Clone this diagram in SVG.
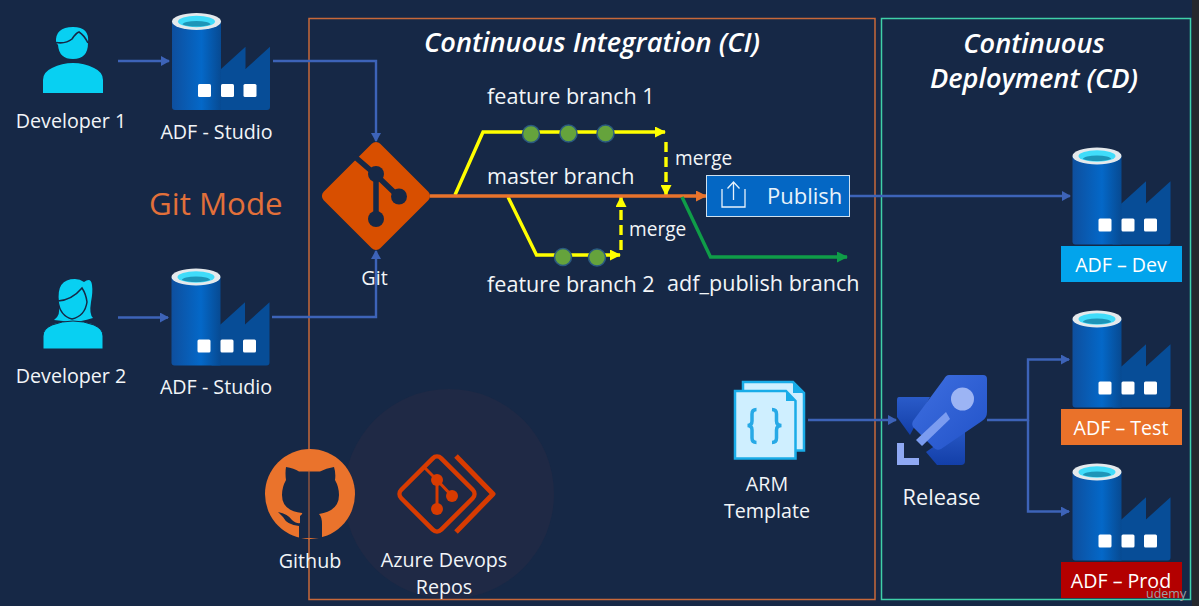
<svg xmlns="http://www.w3.org/2000/svg" width="1199" height="606" viewBox="0 0 1199 606">
<style>
text{font-family:"Open Sans","Noto Sans","Liberation Sans",sans-serif;fill:#f2f5f8;font-size:19.700px}
.m{text-anchor:middle}
.h{font-weight:600;font-style:italic;font-size:27.200px;fill:#fff}
.c{fill:none;stroke:#3d63b8;stroke-width:2.400}
.y{fill:none;stroke:#ffff00;stroke-width:3.400}
.yd{fill:none;stroke:#ffff00;stroke-width:3.400;stroke-dasharray:10 5}
.dot{fill:#65a33c;stroke:#2a5a80;stroke-width:1.500}
.p{fill:#08d0f2}
.lb{font-size:19.600px;fill:#fff}
.br{font-size:21.600px}
.mg{font-size:19.100px}
</style>
<defs>
<linearGradient id="cy" x1="0" x2="1" y1="0" y2="0"><stop offset="0" stop-color="#0e4f9e"/><stop offset=".6" stop-color="#0468c8"/><stop offset="1" stop-color="#074a92"/></linearGradient>
<linearGradient id="rk" x1="0" x2="1" y1="0" y2="1"><stop offset="0" stop-color="#3f6fe0"/><stop offset="1" stop-color="#2152c8"/></linearGradient>
<linearGradient id="rk2" x1="0" x2="0" y1="0" y2="1"><stop offset="0" stop-color="#2a5bc9"/><stop offset="1" stop-color="#133fa8"/></linearGradient>
<marker id="ab" markerUnits="userSpaceOnUse" markerWidth="9" markerHeight="10" refX="8" refY="5" orient="auto"><path d="M0 0L9 5L0 10z" fill="#3d63b8"/></marker>
<marker id="ay" markerUnits="userSpaceOnUse" markerWidth="11" markerHeight="11" refX="10" refY="5.500" orient="auto"><path d="M0 0L11 5.500L0 11z" fill="#ffff00"/></marker>
<marker id="ao" markerUnits="userSpaceOnUse" markerWidth="11" markerHeight="11" refX="10" refY="5.500" orient="auto"><path d="M0 0L11 5.500L0 11z" fill="#e8732c"/></marker>
<marker id="ag" markerUnits="userSpaceOnUse" markerWidth="11" markerHeight="11" refX="10" refY="5.500" orient="auto"><path d="M0 0L11 5.500L0 11z" fill="#0f9d48"/></marker>
<g id="adf">
<path d="M49 56L73.500 33.700V56L98 33.700V94a3 3 0 0 1-3 3H40V56z" fill="#074d97"/>
<path d="M0 8.500V94a3 3 0 0 0 3 3H49V8.500z" fill="url(#cy)"/>
<ellipse cx="24.500" cy="8.500" rx="24.500" ry="8.500" fill="#e4e9ec"/>
<ellipse cx="24.500" cy="8.500" rx="18.500" ry="5.800" fill="#40dcfa"/>
<path d="M10.500 11.500a14 3.500 0 0 1 28 0a18.500 5.800 0 0 1-28 0z" fill="#1d95b8"/>
<rect x="26" y="71" width="13" height="13" rx="1.500" fill="#fff"/>
<rect x="49" y="71" width="13" height="13" rx="1.500" fill="#fff"/>
<rect x="71.500" y="71" width="13" height="13" rx="1.500" fill="#fff"/>
</g>
</defs>
<rect width="1199" height="606" fill="#162846"/>
<rect x="1192" width="7" height="606" fill="#25282d"/>
<circle cx="449" cy="494" r="105" fill="#1f2945"/>
<rect id="ci-box" x="309" y="18.500" width="566" height="581" fill="none" stroke="#c8683a" stroke-width="1.500"/>
<rect id="cd-box" x="881.500" y="18.500" width="309" height="581" fill="none" stroke="#3fd0a8" stroke-width="1.500"/>
<text class="h m" x="592" y="52">Continuous Integration (CI)</text>
<text class="h m" x="1034" y="52.500">Continuous</text>
<text class="h m" x="1034" y="87.500">Deployment (CD)</text>
<text id="git-mode" x="149" y="215" style="font-size:31.300px;fill:#e2703a">Git Mode</text>

<g id="connectors">
<path class="c" d="M118 61H169" marker-end="url(#ab)"/>
<path class="c" d="M273 61H376V141" marker-end="url(#ab)"/>
<path class="c" d="M118 317.500H168" marker-end="url(#ab)"/>
<path class="c" d="M272 317H376V251" marker-end="url(#ab)"/>
<path class="y" d="M455 195L483 132H665" marker-end="url(#ay)"/>
<path class="y" d="M508 197L536.500 255H620" marker-end="url(#ay)"/>
<path class="yd" d="M666 142V195" marker-end="url(#ay)"/>
<path class="yd" d="M621 250V197" marker-end="url(#ay)"/>
<path d="M430 196H706" fill="none" stroke="#e8732c" stroke-width="3.400" marker-end="url(#ao)"/>
<path d="M682 197L710.500 257H847" fill="none" stroke="#0f9d48" stroke-width="3.400" marker-end="url(#ag)"/>
<path class="c" d="M849 196H1070" marker-end="url(#ab)"/>
<path class="c" d="M808 420H896" marker-end="url(#ab)"/>
<path class="c" d="M987 420H1028V359.500H1069" marker-end="url(#ab)"/>
<path class="c" d="M1028 420V511.500H1069" marker-end="url(#ab)"/>
</g>

<g id="developer-1">
<path class="p" d="M43 93V80q0-8 9-12q10-5 21-5t21 5q9 4 9 12v13z"/>
<path class="p" d="M56 42.500Q55 27 73 27Q90 27 88 43Q88 59 73 59Q59 59 58 45z"/>
<path d="M56 42.500Q66 44 72 39Q76 33 79 32Q84 35 88 43" fill="none" stroke="#162846" stroke-width="1.600"/>
<text class="m" x="71" y="128">Developer 1</text>
</g>
<g id="adf-studio-1"><use href="#adf" x="172" y="13"/><text class="m" x="216.500" y="139">ADF - Studio</text></g>

<g id="developer-2">
<path class="p" d="M54 320Q61 316 59 302Q56 279 75 279Q80 279 84 282Q91 277 92 285Q93 292 91 302Q89 314 93 318Q80 322 72 322z"/>
<path d="M58 301Q72 300 82 288Q86 294 87 302Q85 316 72 319Q60 316 58 301z" fill="#08d0f2" stroke="#162846" stroke-width="1.500"/>
<path class="p" d="M43 349V336Q43 329 52 325Q62 321 73 321Q84 321 94 325Q103 329 103 336V349z" stroke="#162846" stroke-width="1"/>
<text class="m" x="71" y="383">Developer 2</text>
</g>
<g id="adf-studio-2"><use href="#adf" x="171.500" y="268.500"/><text class="m" x="216" y="394">ADF - Studio</text></g>

<g id="git">
<rect x="336" y="156" width="80" height="80" rx="6" transform="rotate(45 376 196)" fill="#d84f00"/>
<path d="M354 156L376 175M376 175V219M376 175L399 197" fill="none" stroke="#162846" stroke-width="5.500"/>
<circle cx="376" cy="174" r="8" fill="#162846"/><circle cx="399" cy="196.500" r="8" fill="#162846"/><circle cx="376" cy="219" r="8" fill="#162846"/>
<text class="m" x="374.500" y="285">Git</text>
</g>

<g id="branch-labels">
<text class="br" x="487" y="104">feature branch 1</text>
<text class="br" x="487" y="184">master branch</text>
<text class="br" x="487" y="292">feature branch 2</text>
<text class="br" x="667" y="291">adf_publish branch</text>
<text class="mg" x="675" y="165">merge</text>
<text class="mg" x="629" y="236">merge</text>
</g>
<g id="commits">
<circle class="dot" cx="531" cy="134" r="8.500"/><circle class="dot" cx="568.500" cy="133.500" r="8.500"/><circle class="dot" cx="605.500" cy="133.500" r="8.500"/>
<circle class="dot" cx="563" cy="257" r="8.500"/><circle class="dot" cx="597" cy="257.500" r="8.500"/>
</g>

<g id="publish">
<rect x="706.500" y="175.500" width="143" height="41" fill="#0467c4" stroke="#cfe0ee" stroke-width="1"/>
<path d="M722 189V207H745V189M733.500 200V183M727.500 188.500L733.500 182L739.500 188.500" fill="none" stroke="#e8f2fb" stroke-width="1.300"/>
<text x="767" y="204" style="font-size:22px;font-weight:500;fill:#e8f3fb">Publish</text>
</g>

<g id="adf-dev"><use href="#adf" x="1072.500" y="147.500"/><rect x="1061" y="246" width="121" height="36" fill="#02a4ec"/><text class="m lb" x="1121" y="272">ADF – Dev</text></g>
<g id="adf-test"><use href="#adf" x="1072.500" y="310.500"/><rect x="1061" y="409" width="121" height="36" fill="#ea722a"/><text class="m lb" x="1121" y="435">ADF – Test</text></g>
<g id="adf-prod"><use href="#adf" x="1072.500" y="463.500"/><rect x="1061" y="562" width="121" height="36" fill="#b30000"/><text class="m lb" x="1121" y="588">ADF – Prod</text></g>
<text x="1146" y="598" style="font-size:12.500px;fill:#9aa0a6">udemy</text>

<g id="github">
<circle cx="310" cy="494" r="45" fill="#ea732c"/>
<path d="M286 467Q294 468 299 471.500H320Q326 468 334 467Q336 473 335 480Q339 487 339 495Q339 511 319 514Q322 517 322 524V538H299V526Q287 525 283 517L278 512Q288 514 292 520Q297 524 300 523V516Q303 514 302 513Q282 511 282 495Q282 487 286 480Q285 473 286 467z" fill="#162846"/>
<path d="M309 470V540" stroke="#c8683a" stroke-width="1"/>
<text class="m" x="310" y="568">Github</text>
</g>
<g id="azure-repos">
<rect x="408.750" y="465.750" width="56.500" height="56.500" rx="6" transform="rotate(45 437 494)" fill="none" stroke="#d83b01" stroke-width="4.500"/>
<path d="M456 456L493 494L456 532" fill="none" stroke="#d83b01" stroke-width="5" stroke-linejoin="round"/>
<path d="M425 468L437 480V508M437 480L452 496" fill="none" stroke="#d83b01" stroke-width="3"/>
<circle cx="437" cy="480" r="6" fill="#d83b01"/><circle cx="452" cy="496" r="6" fill="#d83b01"/><circle cx="437" cy="509" r="6" fill="#d83b01"/>
<text class="m" x="444" y="567">Azure Devops</text><text class="m" x="444" y="594">Repos</text>
</g>

<g id="arm">
<path d="M743 382H793L804 393V450.500H743z" fill="#cfefff" stroke="#19ace8" stroke-width="2.500"/>
<path d="M793 382L804 393H793z" fill="#19ace8"/>
<path d="M735 391H786L795.500 401V458.500H735z" fill="#cfefff" stroke="#19ace8" stroke-width="2.500"/>
<path d="M786 391L795.500 401H786z" fill="#19ace8"/>
<path d="M756.500 409.500Q752 409.500 752 414V421Q752 425.500 747.500 425.500Q752 425.500 752 430V438Q752 442.500 756.500 442.500M772 409.500Q776.500 409.500 776.500 414V421Q776.500 425.500 781.500 425.500Q776.500 425.500 776.500 430V438Q776.500 442.500 772 442.500" fill="none" stroke="#27a9e6" stroke-width="3.500"/>
<text class="m" x="767" y="491">ARM</text><text class="m" x="767" y="518">Template</text>
</g>

<g id="release">
<path d="M899 397H930L910 435L897 417V400Q897 397 899 397z" fill="url(#rk2)"/>
<path d="M965 425V461a4 4 0 0 1-4 4H937L926 452z" fill="url(#rk2)"/>
<path d="M949 375H983a4 4 0 0 1 4 4V412Q987 418 982 421L941 449Q937 451 934 448L914 428Q911 425 913 421L944 379Q946 375 949 375z" fill="url(#rk)"/>
<circle cx="962.500" cy="399" r="11.500" fill="#9cb4f4"/>
<path d="M916 440L946 412L950 419L922 446z" fill="#7b9cf0"/>
<path d="M897 443H904V458H919V465H897z" fill="#8fa9f4"/>
<text class="m" x="941.500" y="505" style="font-size:21.700px">Release</text>
</g>
</svg>
